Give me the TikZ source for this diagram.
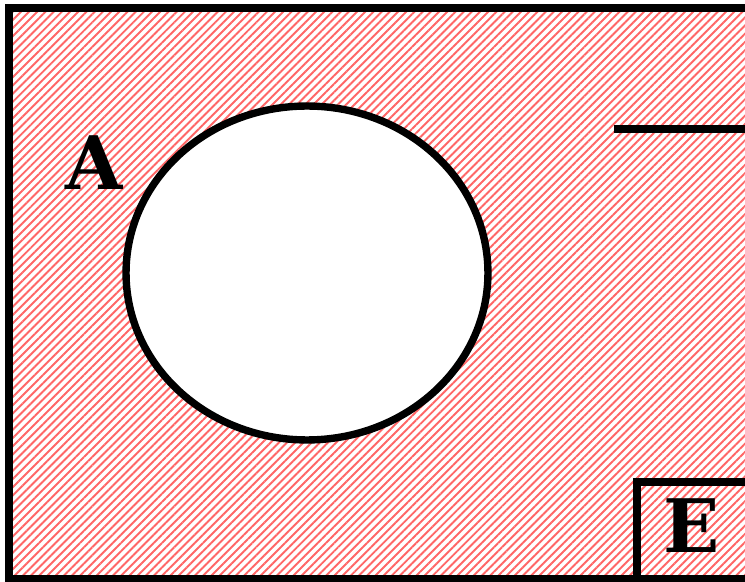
\documentclass[tikz,border=0pt]{standalone}
\usepackage{fontspec}
\setmainfont{DejaVu Serif}
\usetikzlibrary{positioning,patterns.meta,shapes.geometric}

\begin{document}
\begin{tikzpicture}[x=0.02cm, y=0.02cm,
  region/.style={draw=black, line width=4.4pt, pattern={Lines[angle=45, distance=3.3pt, line width=1.1pt]}, pattern color=red!60},
  setnode/.style={draw=black, line width=4.2pt, fill=white, ellipse, minimum width=7.24cm, minimum height=6.68cm, inner sep=0pt},
  setlabel/.style={font=\bfseries\fontsize{42}{45}\selectfont, inner sep=0pt},
  edge/.style={draw=black, line width=4.2pt}
]
\clip (0,0) rectangle (745,582);
\draw[region] (9,3.5) rectangle (780,574);
\node[setnode] (setB) at (307,309) {};
\node[setlabel] (labA) at (94,419) {A};
\coordinate (barL) at (614,453);
\coordinate (barR) at (780,453);
\draw[edge] (barL) -- (barR);
\coordinate (boxSW) at (637,-20);
\coordinate (boxNE) at (780,100);
\draw[edge] (boxSW) rectangle (boxNE);
\node[setlabel] (labE) at (692,56) {E};
\end{tikzpicture}
\end{document}
